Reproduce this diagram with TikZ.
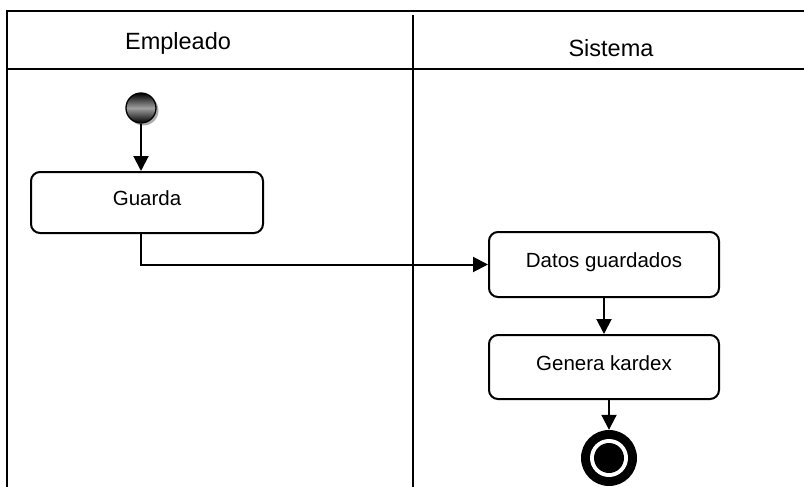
\documentclass[tikz,border=0pt]{standalone}
\usepackage{fontspec}
\setmainfont{Liberation Sans}
\usetikzlibrary{arrows.meta,calc,shadows}
\begin{document}
\begin{tikzpicture}[x=1pt,y=-1pt,
  lane/.style={line width=2.2pt},
  actbox/.style={draw, line width=2pt, rounded corners=9pt, minimum width=#1, inner sep=0pt,
     font=\fontsize{20.5}{24}\selectfont, text height=16pt, text depth=10pt},
  conn/.style={line width=2pt, -{Triangle[length=15pt,width=15pt]}},
  hdr/.style={font=\fontsize{23.5}{28}\selectfont, inner sep=0pt}]
\useasboundingbox (0,0) rectangle (804,487);
% swimlanes
\draw[lane] (804,11) -- (7,11) -- (7,487);
\draw[lane] (7,69) -- (804,69);
\draw[lane] (413,15) -- (413,487);
\node[hdr] (h1) at (178,43) {Empleado};
\node[hdr] (h2) at (611,48) {Sistema};
% initial node
\fill[gray!65] (143.5,110.5) circle (15);
\node[circle, draw, line width=1.3pt, minimum size=30pt, inner sep=0pt,
  top color=black, bottom color=black, middle color=gray!75] (init) at (141,108) {};
% activities
\node[actbox=232pt, minimum height=61pt] (guarda) at (147,202.5) {Guarda};
\node[actbox=230pt, minimum height=65pt] (datos) at (604,264.5) {Datos guardados};
\node[actbox=230pt, minimum height=64pt] (genera) at (604,367) {Genera kardex};
% final node
\node[circle, fill=black, minimum size=56pt, inner sep=0pt] (final) at (609,458) {};
\fill[white] (final.center) circle (19);
\fill[black] (final.center) circle (15);
% connectors
\draw[conn] (init.south) -- (init |- guarda.north);
\draw[conn] (init |- guarda.south) |- (datos.west);
\draw[conn] (datos.south) -- (genera.north);
\draw[conn] (final |- genera.south) -- (final.north);
\end{tikzpicture}
\end{document}
